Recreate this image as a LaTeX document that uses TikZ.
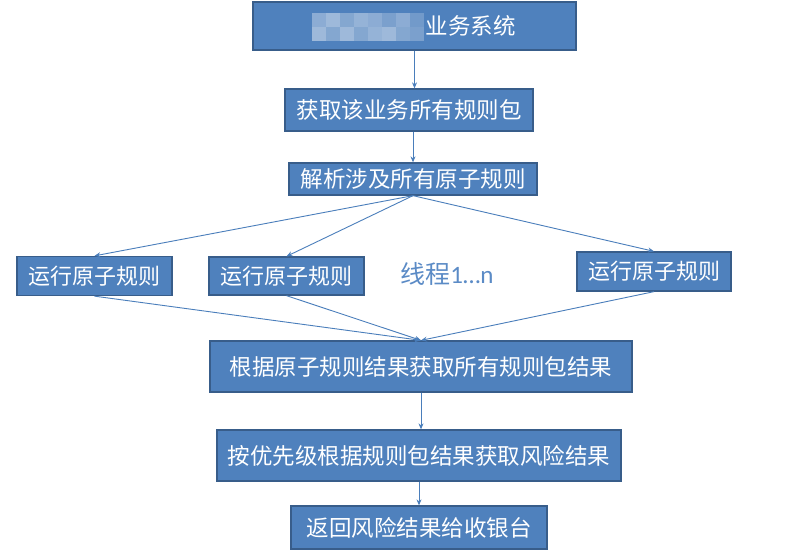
\documentclass[tikz,border=0pt]{standalone}
\usepackage{fontspec}
\setmainfont{Noto Sans CJK SC}
\newfontfamily\latinfont{Carlito}
\usetikzlibrary{arrows.meta}
\definecolor{boxfill}{HTML}{4F81BD}
\definecolor{boxborder}{HTML}{385D8A}
\definecolor{linecol}{HTML}{4A7EBB}
\definecolor{threadcol}{HTML}{5B8BC6}
\tikzset{
  box/.style={draw=boxborder, fill=boxfill, line width=1.3pt, text=white, inner sep=0pt, font=\fontsize{22.5}{26}\selectfont},
  runbox/.style={box, font=\fontsize{22}{25}\selectfont},
  conn/.style={draw=linecol, line width=0.9pt, -{Stealth[length=6pt,width=5pt]}},
  blurblock/.style={fill=white, draw=none}
}
\begin{document}
\begin{tikzpicture}[x=1pt,y=-1pt]
\useasboundingbox (0,0) rectangle (800,554);
\fill[white] (0,0) rectangle (800,554);
% boxes
\node[box, minimum width=323pt, minimum height=48pt] (top) at (414.5,26) {\phantom{汉汉汉汉汉}业务系统};
% mosaic blur over the hidden part of the name
\foreach \x/\y/\o in {312/13/0.35, 326/13/0.45, 340/13/0.3, 354/13/0.4, 368/13/0.35, 382/13/0.25, 396/13/0.35, 410/13/0.2,
                      312/27/0.45, 326/27/0.3, 340/27/0.45, 354/27/0.3, 368/27/0.4, 382/27/0.45, 396/27/0.3, 410/27/0.25}
  \fill[blurblock, opacity=\o] (\x,\y) rectangle ++(14,14);
\node[box, minimum width=248pt, minimum height=42pt] (get) at (409,110) {获取该业务所有规则包};
\node[box, minimum width=248pt, minimum height=32pt] (parse) at (413,179) {解析涉及所有原子规则};
\node[runbox, minimum width=155pt, minimum height=39pt] (run1) at (94.5,276) {运行原子规则};
\node[runbox, minimum width=155pt, minimum height=38pt] (run2) at (286.5,276) {运行原子规则};
\node[runbox, minimum width=154pt, minimum height=39pt] (run3) at (654,271.5) {运行原子规则};
\node[text=threadcol, font=\fontsize{25}{29}\selectfont, inner sep=0pt] (thread) at (447,274) {线程{\latinfont 1…n}};
\node[box, minimum width=422pt, minimum height=51pt] (gen) at (421,366.5) {根据原子规则结果获取所有规则包结果};
\node[box, minimum width=404pt, minimum height=51pt] (prio) at (419,455.5) {按优先级根据规则包结果获取风险结果};
\node[box, minimum width=256pt, minimum height=43pt] (ret) at (419,527.5) {返回风险结果给收银台};
% connectors
\draw[conn] (top.south) -- (top.south |- get.north);
\draw[conn] (parse.north |- get.south) -- (parse.north);
\draw[conn] (parse.south) -- (run1.north);
\draw[conn] (parse.south) -- (run2.north);
\draw[conn] (parse.south) -- (run3.north);
\draw[conn] (run1.south) -- (gen.north);
\draw[conn] (run2.south) -- (gen.north);
\draw[conn] (run3.south) -- (gen.north);
\draw[conn] (gen.south) -- (gen.south |- prio.north);
\draw[conn] (prio.south) -- (ret.north);
\end{tikzpicture}
\end{document}
